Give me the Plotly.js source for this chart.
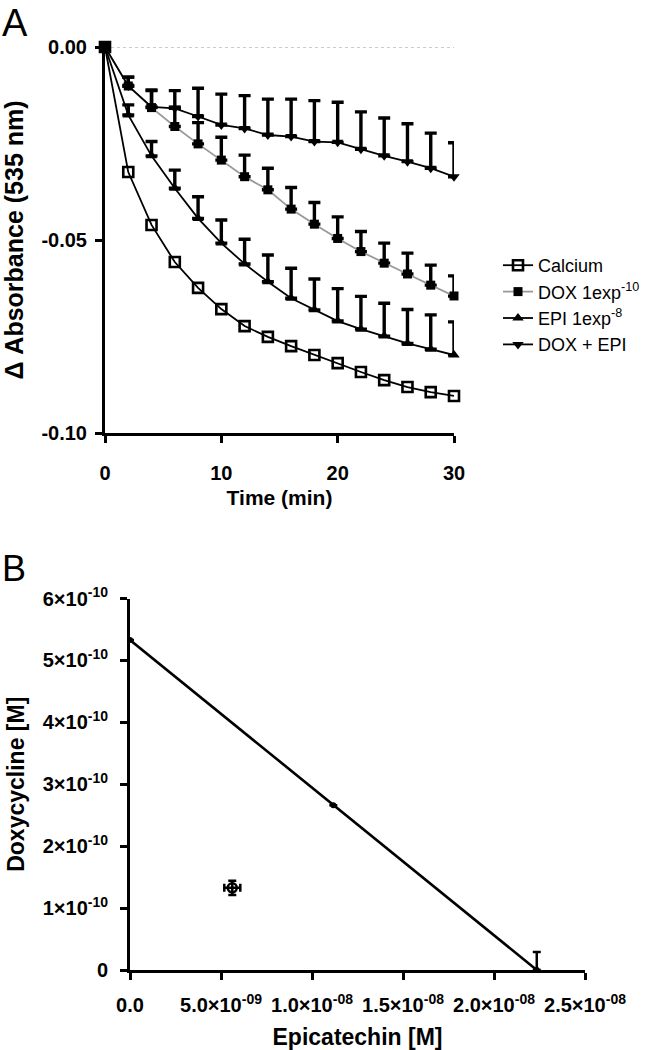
<!DOCTYPE html>
<html>
<head>
<meta charset="utf-8">
<script src="https://cdn.plot.ly/plotly-3.0.1.min.js"></script>
<style>html,body{margin:0;padding:0;background:#fff;}#chart{width:661px;height:1050px;}</style>
</head>
<body>
<div id="chart"></div>
<script>
// ---- Panel A data ----
const time = [0, 2, 4, 6, 8, 10, 12, 14, 16, 18, 20, 22, 24, 26, 28, 30];
const calcium = [0, -0.0324, -0.0461, -0.0557, -0.0624, -0.0679, -0.0723, -0.0751, -0.0775, -0.0798, -0.0819, -0.0842, -0.0863, -0.0881, -0.0894, -0.0904];
const dox = [0, -0.0101, -0.0157, -0.0206, -0.0251, -0.0293, -0.0336, -0.0370, -0.0420, -0.0459, -0.0496, -0.0530, -0.0560, -0.0588, -0.0617, -0.0645];
const doxErr = [0, 0.0023, 0.0044, 0.0050, 0.0055, 0.0059, 0.0056, 0.0056, 0.0056, 0.0056, 0.0056, 0.0052, 0.0052, 0.0054, 0.0052, 0.0052];
const epi = [0, -0.0176, -0.0282, -0.0366, -0.0444, -0.0508, -0.0562, -0.0608, -0.0651, -0.0681, -0.0710, -0.0731, -0.0749, -0.0768, -0.0783, -0.0798];
const epiErr = [0, 0.0026, 0.0037, 0.0047, 0.0056, 0.0060, 0.0064, 0.0069, 0.0078, 0.0080, 0.0084, 0.0085, 0.0085, 0.0088, 0.0089, 0.0086];
const doxEpi = [0, -0.0101, -0.0155, -0.0159, -0.0180, -0.0202, -0.0211, -0.0228, -0.0232, -0.0245, -0.0247, -0.0265, -0.0282, -0.0297, -0.0314, -0.0336];
const doxEpiErr = [0, 0.0023, 0.0044, 0.0046, 0.0073, 0.0080, 0.0085, 0.0093, 0.0097, 0.0106, 0.0104, 0.0097, 0.0098, 0.0098, 0.0091, 0.0088];
const seriesNames = ["Calcium", "DOX 1exp<sup>-10</sup>", "EPI 1exp<sup>-8</sup>", "DOX + EPI"];
const aXTicks = [0, 10, 20, 30];
const aXTickText = ["0", "10", "20", "30"];
const aYTicks = [0, -0.05, -0.10];
const aYTickText = ["0.00", "-0.05", "-0.10"];

// ---- Panel B data ----
const isoX = [0, 1.117e-8, 2.235e-8];
const isoY = [5.33e-10, 2.66e-10, 0];
const isoErr = [0, 0, 2.9e-11];
const comboX = [5.62e-9];
const comboY = [1.327e-10];
const comboXErr = [4.4e-10];
const comboYErr = [1.16e-11];
const bXTicks = [0, 5e-9, 1e-8, 1.5e-8, 2e-8, 2.5e-8];
const bXTickText = ["0.0", "5.0×10<sup>-09</sup>", "1.0×10<sup>-08</sup>", "1.5×10<sup>-08</sup>", "2.0×10<sup>-08</sup>", "2.5×10<sup>-08</sup>"];
const bYTicks = [0, 1e-10, 2e-10, 3e-10, 4e-10, 5e-10, 6e-10];
const bYTickText = ["0", "1×10<sup>-10</sup>", "2×10<sup>-10</sup>", "3×10<sup>-10</sup>", "4×10<sup>-10</sup>", "5×10<sup>-10</sup>", "6×10<sup>-10</sup>"];

const FONT = "Liberation Sans";
const W = 661, H = 1050;
const px = v => v / W;
const py = v => 1 - v / H;
const bold = arr => arr.map(t => "<b>" + t + "</b>");

function errUp(arr) {
  return {type: "data", symmetric: false, array: arr, arrayminus: arr.map(() => 0),
          color: "#000", thickness: 3.4, width: 6, visible: true};
}

const traces = [
  {x: time, y: calcium, name: seriesNames[0], type: "scatter", mode: "lines+markers",
   cliponaxis: false, line: {color: "#000", width: 1.8},
   marker: {symbol: "square-open", size: 10, color: "#000", line: {width: 2.6, color: "#000"}}},
  {x: time, y: dox, name: seriesNames[1], type: "scatter", mode: "lines+markers",
   cliponaxis: false, line: {color: "#999", width: 1.8},
   marker: {symbol: "square", size: 9, color: "#000"}, error_y: errUp(doxErr)},
  {x: time, y: epi, name: seriesNames[2], type: "scatter", mode: "lines+markers",
   cliponaxis: false, line: {color: "#000", width: 1.8},
   marker: {symbol: "triangle-up", size: 10, color: "#000"}, error_y: errUp(epiErr)},
  {x: time, y: doxEpi, name: seriesNames[3], type: "scatter", mode: "lines+markers",
   cliponaxis: false, line: {color: "#000", width: 1.8},
   marker: {symbol: "triangle-down", size: 10, color: "#000"}, error_y: errUp(doxEpiErr)},
  {x: isoX, y: isoY, xaxis: "x2", yaxis: "y2", type: "scatter", mode: "lines+markers",
   showlegend: false, cliponaxis: false, line: {color: "#000", width: 2.6},
   marker: {symbol: "circle", size: 6, color: "#000"},
   error_y: {type: "data", symmetric: false, array: isoErr, arrayminus: isoErr.map(() => 0),
             color: "#000", thickness: 2.5, width: 4}},
  {x: comboX, y: comboY, xaxis: "x2", yaxis: "y2", type: "scatter", mode: "markers",
   showlegend: false, cliponaxis: false,
   marker: {symbol: "circle-open", size: 9, color: "#000", line: {width: 2.5, color: "#000"}},
   error_y: {type: "data", array: comboYErr, color: "#000", thickness: 2.5, width: 4},
   error_x: {type: "data", array: comboXErr, color: "#000", thickness: 2.5, width: 4}}
];

const axCommon = {
  showgrid: false, zeroline: false, showline: true, linecolor: "#000", linewidth: 3,
  ticks: "outside", ticklen: 7, tickwidth: 3, tickcolor: "#000",
  tickfont: {family: FONT, size: 20, color: "#000"},
  tickmode: "array", fixedrange: true
};
const titleFont = s => ({family: FONT, size: s, color: "#000"});

const layout = {
  width: W, height: H,
  margin: {l: 0, r: 0, t: 0, b: 0},
  paper_bgcolor: "#fff", plot_bgcolor: "rgba(0,0,0,0)",
  font: {family: FONT, color: "#000", size: 19},
  showlegend: true,
  legend: {x: px(498), y: py(247), xanchor: "left", yanchor: "top",
           font: {family: FONT, size: 18, color: "#000"}, bgcolor: "rgba(0,0,0,0)",
           tracegroupgap: 0},
  xaxis: Object.assign({}, axCommon, {
    domain: [px(105), px(454)], range: [0, 30], anchor: "y",
    tickvals: aXTicks, ticktext: bold(aXTickText), ticklabelstandoff: 13,
    title: {text: "<b>Time (min)</b>", font: titleFont(21), standoff: 8}
  }),
  yaxis: Object.assign({}, axCommon, {
    domain: [py(433), py(47)], range: [-0.1, 0], anchor: "x",
    tickvals: aYTicks, ticktext: bold(aYTickText), ticklabelstandoff: 4,
    title: {text: "<b>Δ Absorbance (535 nm)</b>", font: titleFont(25), standoff: 25}
  }),
  xaxis2: Object.assign({}, axCommon, {
    domain: [px(130), px(585)], range: [0, 2.5e-8], anchor: "y2",
    tickvals: bXTicks, ticktext: bold(bXTickText), ticklabelstandoff: 8,
    title: {text: "<b>Epicatechin [M]</b>", font: titleFont(23), standoff: 14}
  }),
  yaxis2: Object.assign({}, axCommon, {
    domain: [py(970), py(598.5)], range: [0, 6e-10], anchor: "x2",
    tickvals: bYTicks, ticktext: bold(bYTickText), ticklabelstandoff: 8,
    title: {text: "<b>Doxycycline [M]</b>", font: titleFont(23), standoff: 12}
  }),
  shapes: [
    {type: "line", xref: "x", yref: "y", x0: 0, x1: 30, y0: 0, y1: 0,
     line: {color: "#999", width: 1, dash: "dot"}, layer: "below"}
  ],
  annotations: [
    {text: "A", xref: "paper", yref: "paper", x: px(0), y: py(0), xanchor: "left", yanchor: "top",
     showarrow: false, font: {family: FONT, size: 38, color: "#000"}},
    {text: "B", xref: "paper", yref: "paper", x: px(0), y: py(546), xanchor: "left", yanchor: "top",
     showarrow: false, font: {family: FONT, size: 36, color: "#000"}}
  ]
};

Plotly.newPlot("chart", traces, layout, {staticPlot: true, displayModeBar: false});
</script>
</body>
</html>
